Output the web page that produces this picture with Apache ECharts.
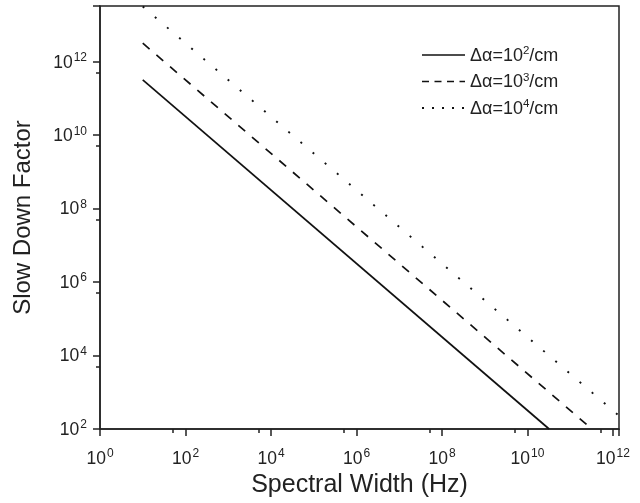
<!DOCTYPE html>
<html><head><meta charset="utf-8">
<script src="https://cdn.jsdelivr.net/npm/echarts@6/dist/echarts.min.js"></script>
<style>html,body{margin:0;padding:0;background:#fff}#c{width:640px;height:503px}</style>
</head><body><div id="c"></div>
<script>
const seriesNames = ['Δα=10²/cm', 'Δα=10³/cm', 'Δα=10⁴/cm'];
const legendExps = ['2', '3', '4'];
const solidX = [1e1, 3.2e10];
const solidY = [3.2e11, 1e2];
const dashedX = [1e1, 3.2e11];
const dashedY = [3.2e12, 1e2];
const dottedX = [1e1, 1.38e12];
const dottedY = [3.2e13, 2.3e2];

function pairs(xs, ys) { return xs.map((x, i) => [x, ys[i]]); }
function powLabel(v) {
  const e = Math.round(Math.log10(v));
  return '{b|10}{s|' + e + '}';
}
const tickRich = {
  b: { fontFamily: 'Liberation Sans', fontSize: 17.5, color: '#222', verticalAlign: 'bottom', lineHeight: 20 },
  s: { fontFamily: 'Liberation Sans', fontSize: 12, color: '#222', verticalAlign: 'top', lineHeight: 20, padding: [0, 0, 8, 1] }
};
const chart = echarts.init(document.getElementById('c'), null, { renderer: 'canvas' });
const lineColor = '#111';
const legendDash = ['solid', [7, 5.5], [2, 8]];
chart.setOption({
  animation: false,
  backgroundColor: '#fff',
  grid: { left: 100, right: 21, top: 6, bottom: 74, show: true, borderColor: '#222', borderWidth: 1.5 },
  legend: {
    left: 421, top: 45, padding: 0, orient: 'vertical', itemWidth: 43, itemHeight: 14, itemGap: 6.5,
    itemStyle: { opacity: 0 },
    data: seriesNames.map((n, i) => ({ name: n, lineStyle: { type: legendDash[i], width: i === 2 ? 2 : 1.6, color: lineColor } })),
    formatter: function (name) { const i = seriesNames.indexOf(name); return '{t|Δα=10}{s|' + legendExps[i] + '}{t|/cm}'; },
    textStyle: {
      rich: {
        t: { fontFamily: 'Liberation Sans', fontSize: 18, color: '#222', lineHeight: 20, verticalAlign: 'bottom' },
        s: { fontFamily: 'Liberation Sans', fontSize: 11.5, color: '#222', lineHeight: 20, verticalAlign: 'top', padding: [0, 0, 8, 0] }
      }
    }
  },
  xAxis: {
    type: 'log', logBase: 10, min: 1, max: 1.38e12, interval: 2,
    name: 'Spectral Width (Hz)', nameLocation: 'middle', nameGap: 42,
    nameTextStyle: { fontFamily: 'Liberation Sans', fontSize: 25, color: '#222' },
    axisLine: { show: true, lineStyle: { color: '#222', width: 1.5 } },
    axisTick: { show: true, inside: false, length: 7, lineStyle: { color: '#222', width: 1.5 } },
    minorTick: { show: true, splitNumber: 2, length: 4, lineStyle: { color: '#222', width: 1.5 } },
    splitLine: { show: false }, minorSplitLine: { show: false },
    axisLabel: { formatter: powLabel, rich: tickRich, margin: 19, showMaxLabel: false, showMinLabel: true }
  },
  yAxis: {
    type: 'log', logBase: 10, min: 100, max: 3.3e13, interval: 2,
    name: 'Slow Down Factor', nameLocation: 'middle', nameGap: 65,
    nameTextStyle: { fontFamily: 'Liberation Sans', fontSize: 24, color: '#222' },
    axisLine: { show: true, lineStyle: { color: '#222', width: 1.5 } },
    axisTick: { show: true, inside: false, length: 7, lineStyle: { color: '#222', width: 1.5 } },
    minorTick: { show: true, splitNumber: 2, length: 4, lineStyle: { color: '#222', width: 1.5 } },
    splitLine: { show: false }, minorSplitLine: { show: false },
    axisLabel: { formatter: powLabel, rich: tickRich, margin: 13, showMaxLabel: false }
  },
  series: [
    { name: seriesNames[0], type: 'line', data: pairs(solidX, solidY), showSymbol: false, symbol: 'none',
      lineStyle: { color: lineColor, width: 1.7, type: 'solid' }, itemStyle: { color: lineColor } },
    { name: seriesNames[1], type: 'line', data: pairs(dashedX, dashedY), showSymbol: false, symbol: 'none',
      lineStyle: { color: lineColor, width: 1.7, type: [9, 9] }, itemStyle: { color: lineColor } },
    { name: seriesNames[2], type: 'line', data: pairs(dottedX, dottedY), showSymbol: false, symbol: 'none',
      lineStyle: { color: lineColor, width: 1.9, type: [2, 14] }, itemStyle: { color: lineColor } }
  ]
});
</script></body></html>
